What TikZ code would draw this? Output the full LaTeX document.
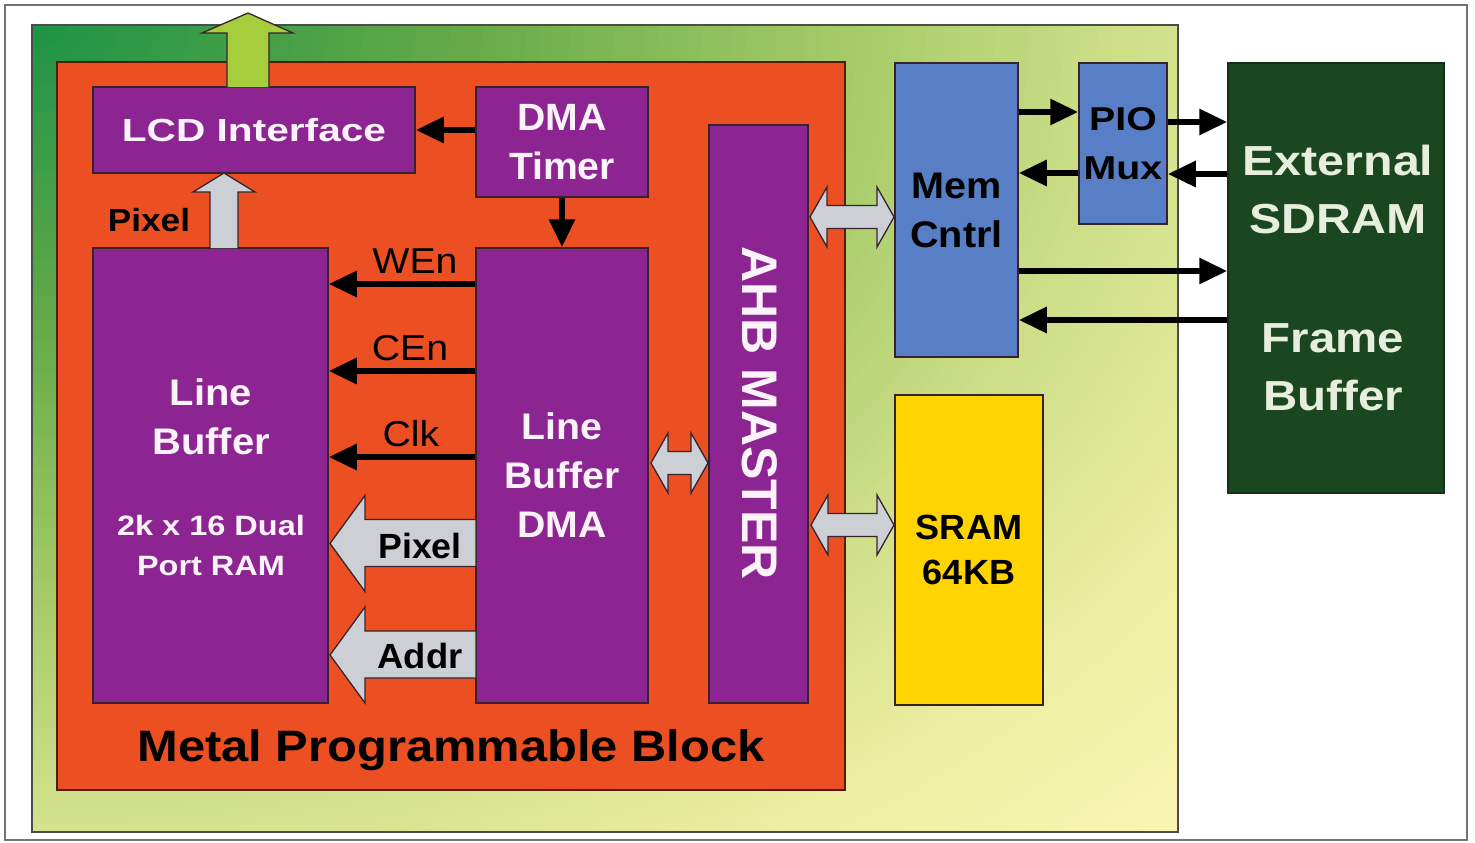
\documentclass[tikz,border=0pt]{standalone}
\usepackage{fontspec}
\setmainfont{Liberation Sans}
\usetikzlibrary{arrows.meta,calc}

\definecolor{purp}{RGB}{140,36,146}
\definecolor{orng}{RGB}{236,80,34}
\definecolor{memblue}{RGB}{88,126,198}
\definecolor{sdgreen}{RGB}{26,70,32}
\definecolor{sramyel}{RGB}{255,212,0}
\definecolor{busgray}{RGB}{204,208,212}
\definecolor{outgreen}{RGB}{165,205,60}
\definecolor{txw}{RGB}{252,242,250}
\definecolor{txext}{RGB}{232,238,222}
\definecolor{edge}{RGB}{55,35,45}
\definecolor{g0}{RGB}{28,146,70}
\definecolor{g1}{RGB}{100,170,72}
\definecolor{g2}{RGB}{162,202,102}
\definecolor{g3}{RGB}{205,222,135}
\definecolor{g4}{RGB}{238,239,163}
\definecolor{g5}{RGB}{248,245,178}

% size, line skip, horizontal stretch
\newcommand\ft[3]{\fontsize{#1pt}{#2pt}\selectfont\addfontfeatures{FakeStretch=#3}}

\tikzset{
  blk/.style={draw=edge, line width=1.5pt, inner sep=0pt, align=center},
  sig/.style={line width=6pt, -{Triangle[length=28pt,width=25pt]}},
  fat/.style={draw=edge, line width=1.3pt, fill=busgray, line join=miter},
  lbl/.style={inner sep=0pt, align=center},
}

% horizontal two-headed bus arrow: left tip, right tip, centre line
\newcommand\dblarr[3]{%
  \draw[fat] (#1,#3) -- (#1+17,#3-30) -- (#1+17,#3-11.5) -- (#2-17,#3-11.5)
    -- (#2-17,#3-30) -- (#2,#3) -- (#2-17,#3+30) -- (#2-17,#3+11.5)
    -- (#1+17,#3+11.5) -- (#1+17,#3+30) -- cycle;}
% wide left-pointing bus arrow: tail x, tip x, centre line
\newcommand\leftarr[3]{%
  \draw[fat] (#1,#3-24) -- (#2+35,#3-24) -- (#2+35,#3-48) -- (#2,#3)
    -- (#2+35,#3+48) -- (#2+35,#3+23) -- (#1,#3+23) -- cycle;}

\begin{document}
\begin{tikzpicture}[x=1pt,y=-1pt]
\useasboundingbox (0,0) rectangle (1475,843);
\fill[white] (0,0) rectangle (1475,843);
\draw[black!55, line width=1.2pt] (5,5) rectangle (1467,840);

% chip panel: glow fading out from its top-left corner, built from nested ellipses
\begin{scope}
  \clip (32,25) rectangle (1178,832);
  \fill[g5] (32,25) rectangle (1178,832);
  \foreach \cin/\cout/\rin/\rout in {g4/g5/1.2/1.414, g3/g4/0.95/1.2,
      g2/g3/0.7/0.95, g1/g2/0.38/0.7, g0/g1/0/0.38}{
    \foreach \k in {0,...,24}{
      \pgfmathsetmacro\rr{\rout-(\rout-\rin)*\k/25}
      \pgfmathsetmacro\mixp{100*\k/25}
      \fill[\cin!\mixp!\cout] (32,25) ellipse [x radius=\rr*1146pt, y radius=\rr*807pt];
    }
  }
\end{scope}
\draw[black!70, line width=2pt] (32,25) rectangle (1178,832);
\filldraw[fill=orng, draw=black!65!orng, line width=2pt] (57,62) rectangle (845,790);

% blocks
\node[blk, fill=purp, text=txw, minimum width=322pt, minimum height=86pt,
  font={\bfseries\ft{32}{40}{1.27}}] (lcd) at (254,130) {LCD Interface};
\node[blk, fill=purp, text=txw, minimum width=172pt, minimum height=110pt,
  font={\bfseries\ft{38}{49}{1.03}}] (dmat) at (562,142) {DMA\\Timer};
\node[blk, fill=purp, minimum width=235pt, minimum height=455pt] (lbuf) at (210.5,475.5) {};
\node[lbl, text=txw, font={\bfseries\ft{37}{49}{1.08}}] (lbtxt) at (211,416.5) {Line\\Buffer};
\node[lbl, text=txw, font={\bfseries\ft{28}{40}{1.16}}] (ramtxt) at (211,545) {2k x 16 Dual\\Port RAM};
\node[blk, fill=purp, text=txw, minimum width=172pt, minimum height=455pt,
  font={\bfseries\ft{37}{49}{1.06}}] (lbdma) at (562,475.5) {Line\\Buffer\\DMA};
\node[blk, fill=purp, minimum width=99pt, minimum height=578pt] (ahb) at (758.5,414) {};
\node[lbl, text=txw, rotate=-90, font={\bfseries\ft{50}{60}{1.0}}] (ahbtxt) at (760,413) {AHB MASTER};

\node[blk, fill=memblue, text=black, minimum width=123pt, minimum height=294pt,
  font={\bfseries\ft{37}{49}{1.07}}] (mem) at (956.5,210) {Mem\\Cntrl};
\node[blk, fill=memblue, text=black, minimum width=88pt, minimum height=161pt,
  font={\bfseries\ft{33}{49}{1.19}}] (pio) at (1123,143.5) {PIO\\Mux};
\node[blk, fill=sramyel, text=black, minimum width=148pt, minimum height=310pt,
  font={\bfseries\ft{35}{45}{1.03}}] (sram) at (969,550) {SRAM\\64KB};
\node[blk, draw=sdgreen!70!black, fill=sdgreen, minimum width=216pt, minimum height=430pt] (sdram) at (1336,278) {};
\node[lbl, text=txext, font={\bfseries\ft{42}{58}{1.15}}] (exttxt) at (1338,189) {External\\SDRAM};
\node[lbl, text=txext, font={\bfseries\ft{42}{58}{1.13}}] (fbtxt) at (1333,367) {Frame\\Buffer};

\node[lbl, font={\bfseries\ft{44}{50}{1.11}}] (mpb) at (451,750) {Metal Programmable Block};

% display output and pixel path into the LCD interface
\draw[fat, fill=outgreen] (227,87) -- (227,33) -- (202,33) -- (248,13) -- (293,33)
  -- (269,33) -- (269,87);
\draw[fat] (210,248) -- (210,192) -- (193,192) -- (224,173) -- (255,192) -- (238,192) -- (238,248);
\node[lbl, font={\bfseries\ft{32}{40}{1.1}}] (pixtop) at (149,220) {Pixel};

% control signals
\draw[sig] (dmat.west |- lcd.east) -- (lcd.east);
\draw[sig] (dmat.south) -- (lbdma.north);
\draw[sig] (lbdma.west |- 0,284) -- (lbuf.east |- 0,284);
\draw[sig] (lbdma.west |- 0,371) -- (lbuf.east |- 0,371);
\draw[sig] (lbdma.west |- 0,457) -- (lbuf.east |- 0,457);
\node[lbl, font={\ft{36}{40}{1.09}}] (wen) at (415,261) {WEn};
\node[lbl, font={\ft{36}{40}{1.09}}] (cen) at (410,348) {CEn};
\node[lbl, font={\ft{36}{40}{1.09}}] (clk) at (411,434) {Clk};

% data and address buses into the line buffer
\leftarr{476}{330}{543.5}
\leftarr{476}{330}{655}
\node[lbl, font={\bfseries\ft{35}{40}{1.02}}] (pixbus) at (420,546) {Pixel};
\node[lbl, font={\bfseries\ft{35}{40}{1.04}}] (addrbus) at (420,656) {Addr};

% AHB bus links
\dblarr{651}{708}{463}
\dblarr{810}{894}{217}
\dblarr{811}{894}{525}

% memory controller, pin mux and external SDRAM
\draw[sig] (mem.east |- 0,112) -- (pio.west |- 0,112);
\draw[sig] (pio.west |- 0,173) -- (mem.east |- 0,173);
\draw[sig] (pio.east |- 0,122) -- (sdram.west |- 0,122);
\draw[sig] (sdram.west |- 0,174) -- (pio.east |- 0,174);
\draw[sig] (mem.east |- 0,271) -- (sdram.west |- 0,271);
\draw[sig] (sdram.west |- 0,320) -- (mem.east |- 0,320);
\end{tikzpicture}
\end{document}
